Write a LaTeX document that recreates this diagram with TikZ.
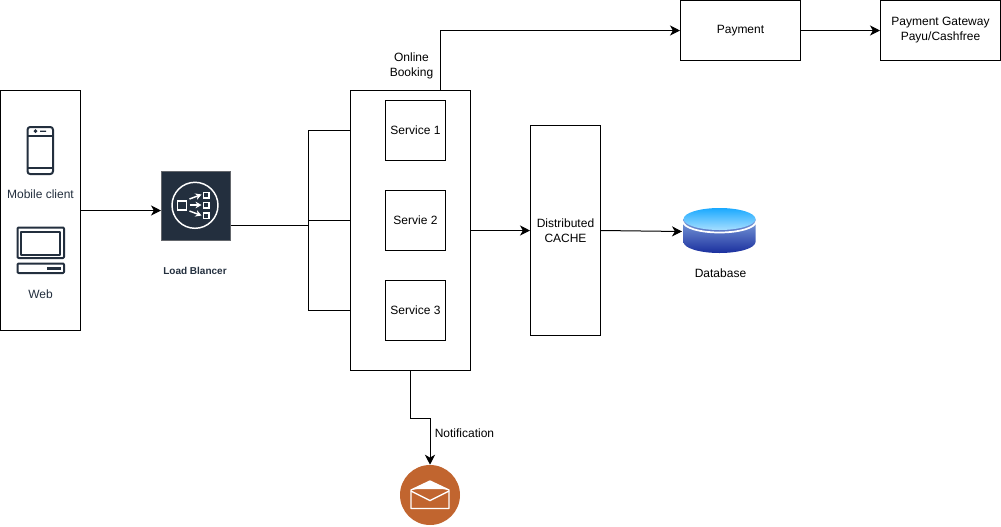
\documentclass[tikz,border=0pt]{standalone}
\usepackage{fontspec}
\setmainfont{Liberation Sans}
\usetikzlibrary{arrows.meta,calc}
\definecolor{awsdark}{HTML}{232F3E}
\definecolor{mailor}{HTML}{C1652F}
\definecolor{dbtopa}{HTML}{1AA9FF}
\definecolor{dbtopb}{HTML}{A6DEFF}
\definecolor{dbsidea}{HTML}{7FA0DC}
\definecolor{dbsideb}{HTML}{1A2F9E}
\tikzset{
  box/.style={draw=black,line width=0.75pt,fill=white,inner sep=0pt,align=center,font=\fontsize{9}{11.2}\selectfont},
  lbl/.style={inner sep=0pt,align=center,font=\fontsize{9}{11.2}\selectfont},
  awslbl/.style={lbl,text=awsdark},
  conn/.style={draw=black,line width=0.75pt},
  arr/.style={conn,-{Stealth[length=7.5pt,width=7.5pt,inset=2.2pt]}},
  icon/.style={draw=awsdark,line width=1.5pt,line join=round},
  wicon/.style={draw=white,line width=1.1pt},
}
\begin{document}
\begin{tikzpicture}[x=0.75pt,y=-0.75pt]
\useasboundingbox (0,0) rectangle (1001,526);
% client box
\node[box,minimum width=80*0.75pt,minimum height=240*0.75pt,anchor=north west] (client) at (0,90) {};
% phone icon
\draw[icon,rounded corners=2pt] (27.5,127) rectangle (53,174);
\draw[icon] (27.5,136) -- (53,136) (27.5,167.5) -- (53,167.5);
\draw[awsdark,line width=1pt] (35.5,131.2) circle (1.1) (40,131.2) -- (46,131.2);
\node[awslbl] (mobile) at (40.5,194) {Mobile client};
% laptop icon
\draw[icon,rounded corners=0.8pt] (17.5,227.5) rectangle (64,258);
\draw[icon] (21,231.5) rectangle (60,255);
\draw[icon,rounded corners=0.8pt] (17.5,263.5) rectangle (64,273);
\fill[awsdark] (47,266.5) rectangle (61,270);
\node[awslbl] (web) at (40.5,294) {Web};
% load balancer
\node[draw=gray!70!awsdark,line width=0.5pt,fill=awsdark,minimum width=69*0.75pt,minimum height=69*0.75pt,inner sep=0pt,anchor=north west] (lb) at (161,171) {};
\draw[wicon] (195,205.3) circle (23);
\draw[wicon] (177.5,201) rectangle (186.5,210);
\draw[wicon] (203.5,192.5) rectangle (209,198) (203.5,202.5) rectangle (209,208) (203.5,213) rectangle (209,218.5);
\foreach \ya/\yb in {199/194.5,205/205,211/215.5}
  \draw[draw=white,line width=1.1pt,-{Stealth[length=4.5pt,width=5pt]}] (189.5,\ya) -- (201.5,\yb);
\node[awslbl,font=\bfseries\fontsize{7.5}{9}\selectfont] (lblb) at (195,271) {Load Blancer};
% booking box
\node[box,minimum width=120*0.75pt,minimum height=280*0.75pt,anchor=north west] (book) at (350,90) {};
\node[box,minimum width=60*0.75pt,minimum height=60*0.75pt,anchor=north west] (s1) at (385,100) {Service 1};
\node[box,minimum width=60*0.75pt,minimum height=60*0.75pt,anchor=north west] (s2) at (385,190) {Servie 2};
\node[box,minimum width=60*0.75pt,minimum height=60*0.75pt,anchor=north west] (s3) at (385,280) {Service 3};
\node[lbl,font=\fontsize{9}{11.4}\selectfont] (online) at (411.5,66) {Online\\Booking};
% cache
\node[box,minimum width=70*0.75pt,minimum height=210*0.75pt,anchor=north west] (cache) at (530,125) {Distributed\\CACHE};
% payment
\node[box,minimum width=120*0.75pt,minimum height=60*0.75pt,anchor=north west] (pay) at (680,0) {\raisebox{-1pt}{Payment}};
\node[box,minimum width=120*0.75pt,minimum height=60*0.75pt,anchor=north west] (gate) at (880,0) {};
\node[lbl] (gatetxt) at (940.5,30.5) {Payment Gateway\\Payu/Cashfree};
% database
\shade[top color=dbsidea,bottom color=dbsideb] (683.5,219) -- (683.5,242) arc[start angle=180,end angle=0,x radius=36,y radius=11] -- (755.5,219) -- cycle;
\draw[white,line width=1.3pt] (683,221.5) arc[start angle=180,end angle=0,x radius=36.5,y radius=11];
\shade[top color=dbtopa,bottom color=dbtopb] (719.5,219) ellipse (36 and 11);
\coordinate (db) at (682,231.5);
\node[lbl] (dblbl) at (720.5,273) {Database};
% mail
\node[circle,fill=mailor,minimum size=60*0.75pt,inner sep=0pt] (mail) at (430,495) {};
\draw[draw=white,line width=1pt,line join=round] (411,490) -- (411,508.5) -- (449,508.5) -- (449,490) -- (430,481) -- cycle;
\fill[white] (411,490) -- (430,481) -- (449,490) -- (442,489) -- (418,489) -- cycle;
\draw[draw=white,line width=1pt] (411,491) -- (430,500.5) -- (449,491);
% connectors
\coordinate (busin) at (308,225.5);
\coordinate (ct) at (308,130.5);
\coordinate (cm) at (308,220.5);
\coordinate (cb) at (308,310.5);
\draw[arr] (client.east |- 0,210.5) -- (lb.west |- 0,210.5);
\draw[conn] (lb.east |- 0,225.5) -- (busin);
\draw[conn] (book.west |- ct) -- (ct) -- (cb) -- (book.west |- cb);
\draw[conn] (cm) -- (book.west |- cm);
\draw[arr] (book.east |- 0,230.5) -- (cache.west |- 0,230.5);
\draw[arr] (cache.east |- 0,230.5) -- (db);
\coordinate (bktop) at (440.5,90);
\draw[arr] (bktop) -- (440.5,30.5) -- (pay.west);
\draw[arr] (pay.east) -- (gate.west);
\draw[arr] (book.south) -- ++(0,47) -| (mail.north);
\node[lbl,anchor=west] (notif) at (434.5,433) {Notification};
\end{tikzpicture}
\end{document}
